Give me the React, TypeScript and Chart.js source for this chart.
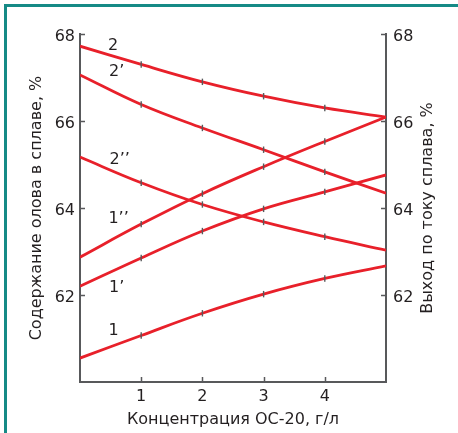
import React, { useEffect, useRef } from 'react';
import { Chart, registerables } from 'chart.js';

Chart.register(...registerables);

// ---- data ----
const concentration = [0, 1, 2, 3, 4, 5];
const curve2 = [67.72, 67.3, 66.9, 66.57, 66.3, 66.09];
const curve2p = [67.06, 66.38, 65.84, 65.34, 64.83, 64.34];
const curve2pp = [65.17, 64.58, 64.08, 63.68, 63.34, 63.03];
const curve1pp = [62.87, 63.63, 64.33, 64.95, 65.53, 66.09];
const curve1p = [62.2, 62.85, 63.47, 63.98, 64.37, 64.76];
const curve1 = [60.55, 61.07, 61.58, 62.02, 62.38, 62.67];

const seriesNames = ['2', '2’', '2’’', '1’’', '1’', '1'];
const seriesValues = [curve2, curve2p, curve2pp, curve1pp, curve1p, curve1];
const labelX = [0.54, 0.6, 0.65, 0.63, 0.6, 0.55];
const labelY = [67.72, 67.13, 65.1, 63.75, 62.17, 61.17];

const yTicks = [62, 64, 66, 68];
const xTicks = [1, 2, 3, 4];

const xTitle = 'Концентрация ОС-20, г/л';
const yTitle = 'Содержание олова в сплаве, %';
const y1Title = 'Выход по току сплава, %';

const RED = '#e8202a';
const AXIS = '#58595b';
const TEXT = '#231f20';
const TEAL = '#168a86';
const FAMILY = '"DejaVu Sans", "Liberation Sans", Arial, sans-serif';
const FONT = { family: FAMILY, size: 16 };

const decorPlugin = {
  id: 'decor',
  afterDraw(chart: any) {
    const ctx = chart.ctx;
    const area = chart.chartArea;
    const xs = chart.scales.x;
    const ys = chart.scales.y;
    const ys1 = chart.scales.y1;
    ctx.save();
    ctx.strokeStyle = AXIS;
    ctx.lineWidth = 1.5;
    ctx.beginPath();
    yTicks.forEach((v) => {
      const py = Math.round(ys.getPixelForValue(v)) + 0.5;
      ctx.moveTo(area.left, py);
      ctx.lineTo(area.left + 5, py);
      const py1 = Math.round(ys1.getPixelForValue(v)) + 0.5;
      ctx.moveTo(area.right - 5, py1);
      ctx.lineTo(area.right, py1);
    });
    xTicks.forEach((v) => {
      const px = Math.round(xs.getPixelForValue(v)) + 0.5;
      ctx.moveTo(px, area.bottom);
      ctx.lineTo(px, area.bottom - 5);
    });
    ctx.stroke();

    ctx.fillStyle = TEXT;
    ctx.font = `16px ${FAMILY}`;
    ctx.textAlign = 'center';
    ctx.textBaseline = 'middle';
    seriesNames.forEach((name, i) => {
      ctx.fillText(name, xs.getPixelForValue(labelX[i]), ys.getPixelForValue(labelY[i]));
    });

    ctx.translate(ys1.right - 30, (area.top + area.bottom) / 2);
    ctx.rotate(-Math.PI / 2);
    ctx.fillText(y1Title, 0, 0);
    ctx.restore();
  },
};

export default function App() {
  const ref = useRef<HTMLCanvasElement | null>(null);

  useEffect(() => {
    if (!ref.current) return;
    const datasets = seriesValues.map((vals, i) => ({
      label: seriesNames[i],
      data: concentration.map((c, j) => ({ x: c, y: vals[j] })),
      borderColor: RED,
      borderWidth: 2.8,
      tension: 0.4,
      pointStyle: 'line' as const,
      pointRotation: 90,
      pointRadius: concentration.map((c) => (c > 0 && c < 5 ? 3.2 : 0)),
      pointHoverRadius: 0,
      pointBorderColor: AXIS,
      pointBorderWidth: 1.4,
      yAxisID: 'y',
    }));

    const chart = new Chart(ref.current, {
      type: 'line',
      data: { datasets },
      plugins: [decorPlugin],
      options: {
        animation: false,
        responsive: false,
        events: [],
        layout: { padding: { top: 34, left: 0, right: 0, bottom: 0 } },
        plugins: { legend: { display: false }, tooltip: { enabled: false } },
        scales: {
          x: {
            type: 'linear',
            position: 'bottom',
            min: 0,
            max: 5,
            afterFit: (s: any) => {
              s.height = 51;
            },
            ticks: {
              stepSize: 1,
              autoSkip: false,
              maxRotation: 0,
              padding: 5,
              color: TEXT,
              font: FONT,
              callback: (v: any) => (v >= 1 && v <= 4 ? String(v) : ''),
            },
            grid: { display: true, drawOnChartArea: false, drawTicks: false },
            border: { display: true, color: AXIS, width: 2 },
            title: {
              display: true,
              text: xTitle,
              color: TEXT,
              font: FONT,
              padding: { top: 0, bottom: 4 },
            },
          },
          y: {
            type: 'linear',
            position: 'left',
            min: 60,
            max: 68,
            afterFit: (s: any) => {
              s.width = 80;
            },
            ticks: {
              stepSize: 2,
              padding: 5,
              labelOffset: 3,
              color: TEXT,
              font: FONT,
              callback: (v: any) => (v === 60 ? '' : String(v)),
            },
            grid: { display: true, drawOnChartArea: false, drawTicks: false },
            border: { display: true, color: AXIS, width: 2 },
            title: {
              display: true,
              text: yTitle,
              color: TEXT,
              font: FONT,
              padding: { top: 27, bottom: 0 },
            },
          },
          y1: {
            type: 'linear',
            position: 'right',
            min: 60,
            max: 68,
            afterFit: (s: any) => {
              s.width = 72;
            },
            ticks: {
              stepSize: 2,
              padding: 7,
              labelOffset: 3,
              color: TEXT,
              font: FONT,
              callback: (v: any) => (v === 60 ? '' : String(v)),
            },
            grid: { display: true, drawOnChartArea: false, drawTicks: false },
            border: { display: true, color: AXIS, width: 2 },
            title: { display: false, text: y1Title },
          },
        },
      },
    });
    return () => chart.destroy();
  }, []);

  return (
    <div
      style={{
        position: 'fixed',
        left: 0,
        top: 0,
        width: 458,
        height: 433,
        background: '#ffffff',
      }}
    >
      <div
        style={{
          position: 'absolute',
          left: 4,
          top: 4,
          right: 0,
          bottom: 0,
          borderLeft: `3px solid ${TEAL}`,
          borderTop: `3px solid ${TEAL}`,
        }}
      />
      <canvas
        ref={ref}
        width={458}
        height={433}
        style={{ position: 'absolute', left: 0, top: 0, width: 458, height: 433 }}
      />
    </div>
  );
}
